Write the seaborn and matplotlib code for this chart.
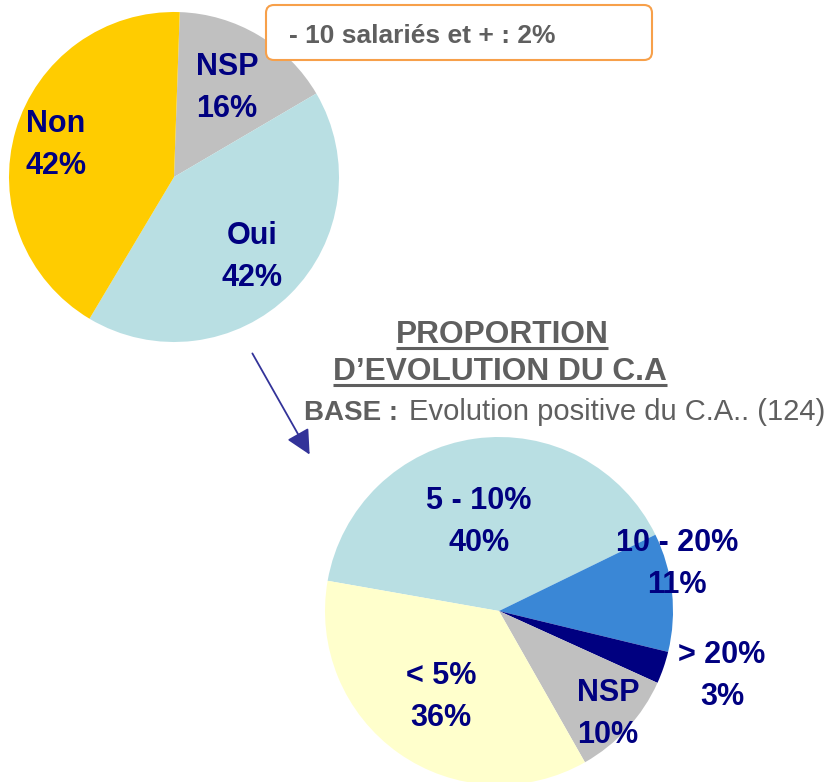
import matplotlib
matplotlib.use("Agg")
import matplotlib.pyplot as plt
import seaborn as sns
from matplotlib.patches import FancyBboxPatch, FancyArrowPatch

# top pie: share of companies (starting clockwise from NSP)
top_labels = ["NSP", "Oui", "Non"]
top_values = [16, 42, 42]
top_colors = ["#C0C0C0", "#B9DFE3", "#FFCC00"]

# bottom pie: proportion of turnover growth (clockwise from 5 - 10%)
bot_labels = ["5 - 10%", "10 - 20%", "> 20%", "NSP", "< 5%"]
bot_values = [40, 11, 3, 10, 36]
bot_colors = ["#B9DFE3", "#3A87D6", "#000080", "#C0C0C0", "#FFFFCC"]

note_text = "- 10 salariés et + : 2%"
title_lines = ["PROPORTION", "D\u2019EVOLUTION DU C.A"]
base_bold = "BASE :"
base_text = "Evolution positive du C.A.. (124)"

sns.set_theme(style="white")
plt.rcParams["font.family"] = ["Liberation Sans", "DejaVu Sans"]

W, H = 829, 782
NAVY = "#000080"
GREY = "#5F5F5F"

fig = plt.figure(figsize=(W / 100, H / 100), dpi=100)
fig.patch.set_facecolor("white")


def draw_pie(cx, cy, r, values, colors, start):
    ax = fig.add_axes([(cx - r) / W, (H - cy - r) / H, 2 * r / W, 2 * r / H])
    ax.pie(values, colors=sns.color_palette(colors), startangle=start,
           counterclock=False, radius=1, wedgeprops=dict(linewidth=0))
    ax.set_xlim(-1, 1)
    ax.set_ylim(-1, 1)
    ax.set_aspect("equal")
    ax.axis("off")
    return ax


ax_top = draw_pie(174, 177, 165, top_values, top_colors, 88)
ax_bot = draw_pie(499, 611, 174, bot_values, bot_colors, 170)

# overlay in pixel coordinates for texts, box and arrow
ov = fig.add_axes([0, 0, 1, 1], zorder=10)
ov.set_xlim(0, W)
ov.set_ylim(H, 0)
ov.axis("off")

lab_kw = dict(ha="center", va="center", fontsize=22, fontweight="bold",
              color=NAVY, linespacing=1.55, multialignment="center")

top_pos = {"NSP": (227, 88), "Oui": (252, 257), "Non": (56, 145)}
for lab, val in zip(top_labels, top_values):
    x, y = top_pos[lab]
    ov.text(x, y, f"{lab}\n{val}%", **lab_kw)

bot_pos = {"5 - 10%": (479, 522), "10 - 20%": (677, 564), "> 20%": (722, 676),
           "NSP": (608, 714), "< 5%": (441, 697)}
for lab, val in zip(bot_labels, bot_values):
    x, y = bot_pos[lab]
    ov.text(x, y, f"{lab}\n{val}%", **lab_kw)

# note box
box = FancyBboxPatch((266, 5), 386, 55, boxstyle="round,pad=0,rounding_size=8",
                     facecolor="white", edgecolor="#F7A04A", linewidth=1.5)
ov.add_patch(box)
ov.text(289, 43, note_text, ha="left", va="baseline", fontsize=19,
        fontweight="bold", color=GREY)

# underlined title
fig.canvas.draw()
renderer = fig.canvas.get_renderer()
inv = ov.transData.inverted()
for line, (cx, base) in zip(title_lines, [(502, 343), (500, 380)]):
    t = ov.text(cx, base, line, ha="center", va="baseline", fontsize=22.8,
                fontweight="bold", color=GREY)
    bb = t.get_window_extent(renderer)
    (x0, _), (x1, _) = inv.transform([(bb.x0, bb.y0), (bb.x1, bb.y1)])
    ov.plot([x0, x1], [base + 4.5, base + 4.5], color=GREY, lw=2.2,
            solid_capstyle="butt")

tb = ov.text(304, 420, base_bold, ha="left", va="baseline", fontsize=20,
             fontweight="bold", color=GREY)
bb = tb.get_window_extent(renderer)
xb = inv.transform([(bb.x1, bb.y0)])[0][0]
ov.text(xb + 11, 420, base_text, ha="left", va="baseline", fontsize=21,
        color=GREY)

# arrow
arrow = FancyArrowPatch((251, 351), (311, 457), arrowstyle="-|>,head_length=10,head_width=5",
                        color="#333399", lw=1.3, mutation_scale=1.5)
ov.add_patch(arrow)

fig.savefig("out.png", dpi=100, facecolor="white")
